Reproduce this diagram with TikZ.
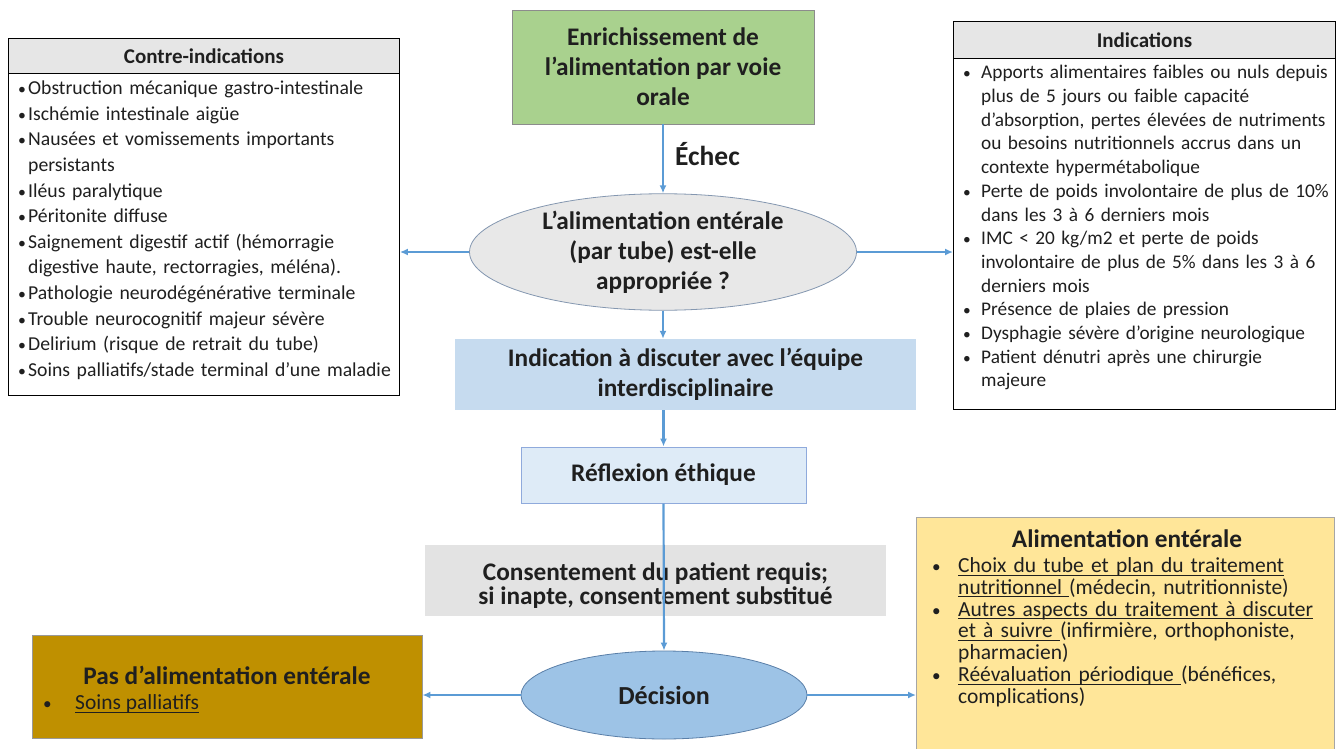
\documentclass[tikz,border=0pt]{standalone}
\usepackage{fontspec}
\setmainfont{Carlito}
\usepackage{graphicx}
\usetikzlibrary{shapes.geometric,arrows.meta}

\definecolor{texte}{HTML}{1F1F1F}
\definecolor{fleche}{HTML}{5B9BD5}
\definecolor{entete}{HTML}{E6E6E6}
\definecolor{vert}{HTML}{A9D18E}
\definecolor{grisclair}{HTML}{E8E8E8}
\definecolor{ellbord}{HTML}{8497B0}
\definecolor{bleuclair}{HTML}{C6DBEF}
\definecolor{bleupale}{HTML}{DEEBF7}
\definecolor{bleubord}{HTML}{8FAADC}
\definecolor{grismoyen}{HTML}{E3E3E3}
\definecolor{bleudec}{HTML}{9DC3E6}
\definecolor{decbord}{HTML}{5A7FA8}
\definecolor{ocre}{HTML}{BF9000}
\definecolor{jaune}{HTML}{FFE699}

% puce : retrait, texte, hauteur de la premiere ligne
\newcommand{\puce}[3]{\par\noindent\hangindent=#1\hangafter=1\rule{0pt}{#3}\makebox[#1][l]{\scalebox{0.8}{•}}#2}
% soulignement simple
\newsavebox{\soulbox}
\newcommand{\souligne}[1]{\leavevmode\sbox{\soulbox}{#1}\rlap{\rule[-3pt]{\wd\soulbox}{1pt}}\usebox{\soulbox}}
\setlength{\lineskiplimit}{-20pt}

\begin{document}
\begin{tikzpicture}[x=1pt,y=-1pt,
    fleche/.style={draw=fleche,line width=2.2pt,-{Latex[length=8pt,width=7pt]}},
    titre/.style={font=\fontsize{25.3}{30}\selectfont\bfseries,align=center,text=texte,inner sep=0pt},
    cadre/.style={draw=black,line width=0.9pt,fill=white,inner sep=0pt,anchor=north west},
    entete/.style={cadre,fill=entete,text=texte,font=\fontsize{21}{24}\selectfont\bfseries},
    liste/.style={inner sep=0pt,anchor=north west,align=left,text=texte}]
  \useasboundingbox (0,0) rectangle (1338,749);

  % contre-indications
  \node[cadre,minimum width=391pt,minimum height=357pt] (contra) at (8,38) {};
  \node[entete,minimum width=391pt,minimum height=35pt] (contrahead) at (8,38) {Contre-indications};
  \node[liste,text width=385pt,font=\fontsize{19.7}{25.6}\selectfont] (contralist) at (18,69) {%
    \puce{10pt}{Obstruction mécanique gastro-intestinale}{18pt}
    \puce{10pt}{Ischémie intestinale aigüe}{18pt}
    \puce{10pt}{Nausées et vomissements importants\newline persistants}{18pt}
    \puce{10pt}{Iléus paralytique}{18pt}
    \puce{10pt}{Péritonite diffuse}{18pt}
    \puce{10pt}{Saignement digestif actif (hémorragie\newline digestive haute, rectorragies, méléna).}{18pt}
    \puce{10pt}{Pathologie neurodégénérative terminale}{18pt}
    \puce{10pt}{Trouble neurocognitif majeur sévère}{18pt}
    \puce{10pt}{Delirium (risque de retrait du tube)}{18pt}
    \puce{10pt}{Soins palliatifs/stade terminal d’une maladie}{18pt}\par};

  % indications
  \node[cadre,minimum width=382pt,minimum height=388pt] (indic) at (953,21) {};
  \node[entete,minimum width=382pt,minimum height=37pt] (indichead) at (953,21) {Indications};
  \node[liste,text width=380pt,font=\fontsize{19.3}{23.7}\selectfont] (indiclist) at (963,55) {%
    \puce{18pt}{Apports alimentaires faibles ou nuls depuis\newline plus de 5 jours ou faible capacité\newline d’absorption, pertes élevées de nutriments\newline ou besoins nutritionnels accrus dans un\newline contexte hypermétabolique}{17pt}
    \puce{18pt}{Perte de poids involontaire de plus de 10\%\newline dans les 3 à 6 derniers mois}{17pt}
    \puce{18pt}{IMC < 20 kg/m2 et perte de poids\newline involontaire de plus de 5\% dans les 3 à 6\newline derniers mois}{17pt}
    \puce{18pt}{Présence de plaies de pression}{17pt}
    \puce{18pt}{Dysphagie sévère d’origine neurologique}{17pt}
    \puce{18pt}{Patient dénutri après une chirurgie\newline majeure}{17pt}\par};

  % axe central
  \node[titre,fill=vert,draw=black!45,line width=0.8pt,minimum width=302pt,minimum height=114pt] (oral) at (663,67) {Enrichissement de\\l’alimentation par voie\\orale};
  \node[titre,ellipse,fill=grisclair,draw=ellbord,line width=0.8pt,minimum width=387pt,minimum height=110pt] (appro) at (663,252) {L’alimentation entérale\\(par tube) est-elle\\appropriée ?};
  \node[titre,fill=bleuclair,minimum width=461pt,minimum height=71pt] (equipe) at (685.5,374.5) {Indication à discuter avec l’équipe\\interdisciplinaire};
  \node[titre,fill=bleupale,draw=bleubord,line width=1pt,minimum width=285pt,minimum height=56pt] (ethique) at (663.5,475) {Réflexion éthique};
  \node[titre,font=\fontsize{25.3}{24}\selectfont\bfseries,fill=grismoyen,minimum width=461pt,minimum height=71pt] (consent) at (655.5,580.5) {\rule{0pt}{28pt}Consentement du patient requis;\\si inapte, consentement substitué};
  \node[titre,font=\fontsize{26}{30}\selectfont\bfseries,ellipse,fill=bleudec,draw=decbord,line width=0.8pt,minimum width=286pt,minimum height=88pt] (decision) at (664,695) {Décision};

  % issues
  \node[fill=ocre,draw=black!40,minimum width=390pt,minimum height=103pt,inner sep=0pt,anchor=north west] (pas) at (32,635) {};
  \node[titre] (pastitre) at (227,675) {Pas d’alimentation entérale};
  \node[anchor=base west,inner sep=0pt,text=texte,font=\fontsize{21.5}{21.8}\selectfont] (pasitem) at (43,709.5) {\makebox[32pt][l]{\scalebox{0.8}{•}}\souligne{Soins palliatifs}};

  \node[fill=jaune,draw=black!35,minimum width=418pt,minimum height=240pt,inner sep=0pt,anchor=north west] (suivi) at (916,517) {};
  \node[titre] (suivititre) at (1127,539) {Alimentation entérale};
  \node[liste,text width=420pt,font=\fontsize{21.5}{21.8}\selectfont] (suivilist) at (932,550.5) {%
    \puce{26pt}{\souligne{Choix du tube et plan du traitement}\newline\souligne{nutritionnel }(médecin, nutritionniste)}{17pt}
    \puce{26pt}{\souligne{Autres aspects du traitement à discuter}\newline\souligne{et à suivre }(infirmière, orthophoniste,\newline pharmacien)}{17pt}
    \puce{26pt}{\souligne{Réévaluation périodique }(bénéfices,\newline complications)}{17pt}\par};

  % connecteurs
  \draw[fleche] (oral) -- node[anchor=west,xshift=11pt,yshift=5pt,inner sep=0pt,text=texte,font=\fontsize{27.5}{30}\selectfont\bfseries] (echec) {Échec} (appro);
  \draw[fleche] (appro.west) -- (appro.west -| contra.east);
  \draw[fleche] (appro.east) -- (appro.east -| indic.west);
  \draw[fleche] (appro.south) -- (appro.south |- equipe.north);
  \draw[fleche] (ethique.north |- equipe.south) -- (ethique.north);
  \draw[fleche] (ethique.south) -- (decision.north);
  \draw[fleche] (decision.west) -- (decision.west -| pas.east);
  \draw[fleche] (decision.east) -- (decision.east -| suivi.west);
\end{tikzpicture}
\end{document}
